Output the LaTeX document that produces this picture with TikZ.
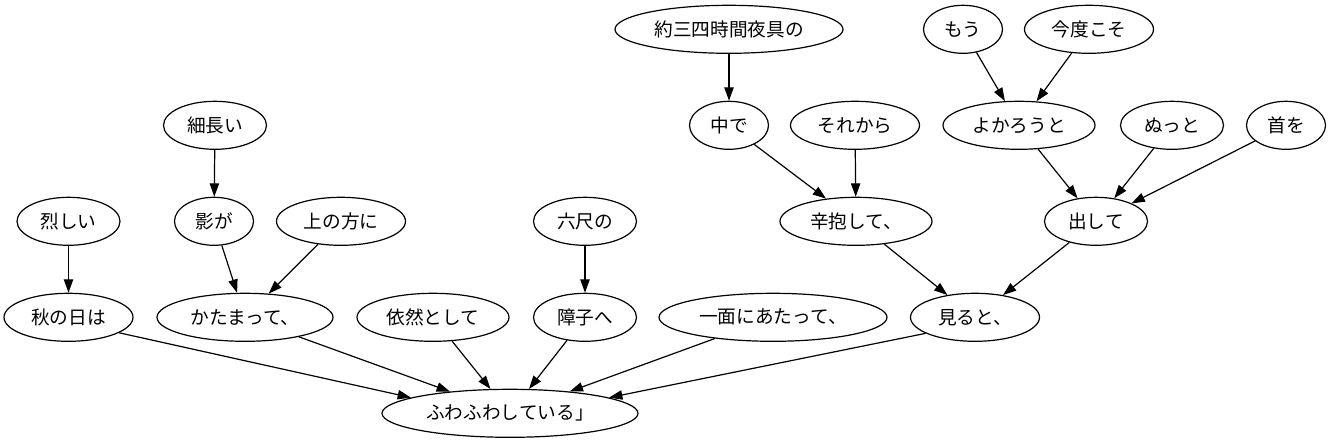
\documentclass[tikz,border=0pt]{standalone}
\usepackage{fontspec}
\setmainfont{Noto Sans CJK JP}
\usetikzlibrary{shapes.geometric,arrows.meta}
\tikzset{
  nd/.style={draw, ellipse, line width=0.9pt, inner sep=0pt, minimum height=36pt, font=\fontsize{14pt}{16pt}\selectfont},
  wa/.style={nd, minimum width=59.25pt},
  wb/.style={nd, minimum width=77.25pt},
  wc/.style={nd, minimum width=96.75pt},
  wd/.style={nd, minimum width=114pt},
  we/.style={nd, minimum width=132pt},
  wf/.style={nd, minimum width=171pt},
  wg/.style={nd, minimum width=192pt},
  arr/.style={-{Triangle[length=10pt,width=7pt]}, line width=0.9pt}
}
\begin{document}
\begin{tikzpicture}[x=0.75pt,y=-0.75pt]
\fill[white] (0,0) rectangle (1331,443);
\useasboundingbox (0,0) rectangle (1331,443);
% rank 1
\node[wf] (yo) at (729,29.3) {約三四時間夜具の};
\node[wa] (mou) at (963,29.3) {もう};
\node[wc] (kondo) at (1089,29.3) {今度こそ};
% rank 2
\node[wb] (hoso) at (215,125.3) {細長い};
\node[wa] (naka) at (729,125.3) {中で};
\node[wc] (sore) at (855,125.3) {それから};
\node[wd] (yoka) at (1019,125.3) {よかろうと};
\node[wb] (nutto) at (1172,125.3) {ぬっと};
\node[wa] (kubi) at (1286,125.3) {首を};
% rank 3
\node[wb] (hage) at (68.5,221.3) {烈しい};
\node[wa] (kage) at (214,221.3) {影が};
\node[wc] (ue) at (341,221.3) {上の方に};
\node[wb] (roku) at (585,221.3) {六尺の};
\node[wd] (shin) at (856,221.3) {辛抱して、};
\node[wb] (dashi) at (1096,221.3) {出して};
% rank 4
\node[wc] (aki) at (68.5,317.3) {秋の日は};
\node[we] (kata) at (245,317.3) {かたまって、};
\node[wd] (izen) at (433,317.3) {依然として};
\node[wb] (shoji) at (585,317.3) {障子へ};
\node[wf] (ichi) at (773,317.3) {一面にあたって、};
\node[wc] (miru) at (975,317.3) {見ると、};
% rank 5
\node[wg] (fuwa) at (510,413.3) {ふわふわしている」};
% edges
\draw[arr] (yo) -- (naka);
\draw[arr] (mou) -- (yoka);
\draw[arr] (kondo) -- (yoka);
\draw[arr] (hoso) -- (kage);
\draw[arr] (naka) -- (shin);
\draw[arr] (sore) -- (shin);
\draw[arr] (yoka) -- (dashi);
\draw[arr] (nutto) -- (dashi);
\draw[arr] (kubi) -- (dashi);
\draw[arr] (hage) -- (aki);
\draw[arr] (kage) -- (kata);
\draw[arr] (ue) -- (kata);
\draw[arr] (roku) -- (shoji);
\draw[arr] (shin) -- (miru);
\draw[arr] (dashi) -- (miru);
\draw[arr] (aki.-17.6) -- (fuwa.171);
\draw[arr] (kata) -- (fuwa);
\draw[arr] (izen) -- (fuwa);
\draw[arr] (shoji) -- (fuwa);
\draw[arr] (ichi) -- (fuwa);
\draw[arr] (miru.198.5) -- (fuwa.9);
\end{tikzpicture}
\end{document}
